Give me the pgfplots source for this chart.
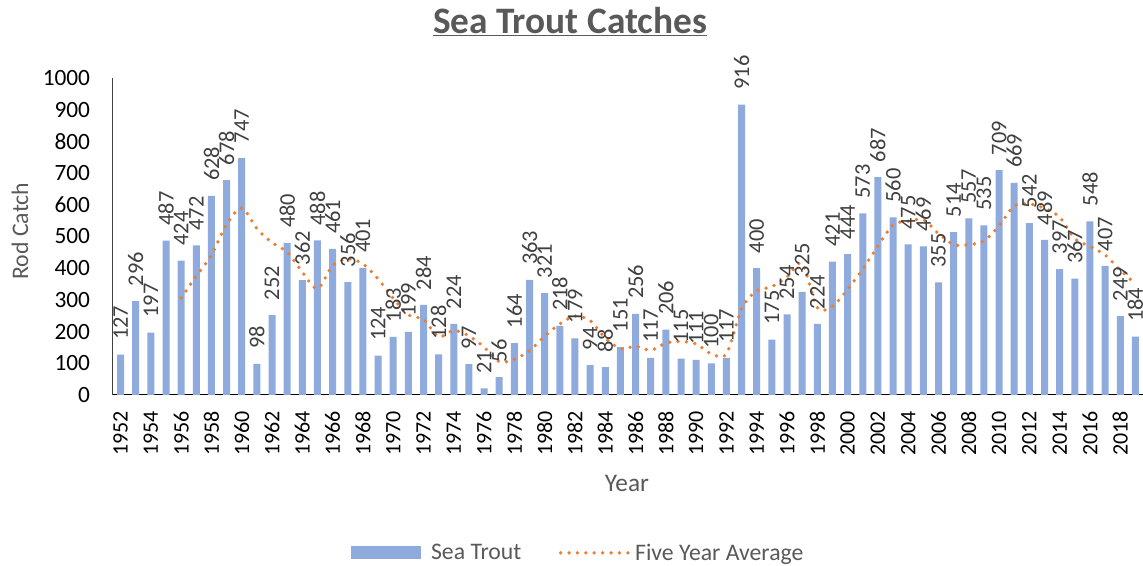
\documentclass[border=0pt]{standalone}
\usepackage{fontspec}
\setmainfont{Carlito}
\usepackage{pgfplots}
\pgfplotsset{compat=1.18}
\definecolor{trBar}{HTML}{8FAADC}
\definecolor{trOrange}{HTML}{ED7D31}
\definecolor{trGrey}{HTML}{595959}
\definecolor{trLabel}{HTML}{404040}

\begin{document}
\begin{tikzpicture}
\path[use as bounding box] (-84.75pt,-128.25pt) rectangle (772.5pt,296.25pt);
\begin{axis}[
  at={(0,0)}, anchor=south west,
  scale only axis, width=772.5pt, height=237.75pt,
  xmin=1951.5, xmax=2019.5, ymin=0, ymax=1000,
  clip=false,
  axis x line*=bottom, axis y line*=left,
  x axis line style={-, black, line width=0.75pt},
  y axis line style={-, trLabel, line width=0.75pt},
  major tick length=0pt,
  xtick={1952,1954,...,2018},
  ytick={0,100,...,1000},
  /pgf/number format/.cd, 1000 sep={}, assume math mode=true, /pgfplots/.cd,
  xticklabel style={font=\fontsize{16.5}{18}\selectfont, rotate=90, anchor=east, inner xsep=12pt},
  yticklabel style={font=\fontsize{17.5}{19}\selectfont, anchor=east, inner xsep=17pt},
  xlabel={Year}, ylabel={Rod Catch},
  xlabel style={font=\fontsize{19}{21}\selectfont, text=trGrey, at={(axis description cs:0.499,-0.278)}, anchor=center},
  ylabel style={font=\fontsize{17.8}{20}\selectfont, text=trGrey, at={(axis description cs:-0.0903,0.517)}, anchor=center, rotate=0},
  legend columns=2,
  legend style={at={(axis description cs:0.452,-0.498)}, anchor=center, draw=none, fill=none,
    font=\fontsize{17.8}{20}\selectfont, text=trGrey,
    /tikz/every even column/.append style={column sep=26pt}},
]
\addplot[ybar, bar width=5.25pt, fill=trBar, draw=none,
  nodes near coords,
  every node near coord/.append style={font=\fontsize{16.8}{18}\selectfont, text=trLabel, rotate=90, anchor=west, inner xsep=11pt},
  legend image code/.code={\fill[trBar] (0pt,-4.9pt) rectangle (52.5pt,4.9pt); \path (58pt,0pt);}]
coordinates {
(1952,127) (1953,296) (1954,197) (1955,487) (1956,424) (1957,472) (1958,628) (1959,678)
(1960,747) (1961,98) (1962,252) (1963,480) (1964,362) (1965,488) (1966,461) (1967,356)
(1968,401) (1969,124) (1970,183) (1971,199) (1972,284) (1973,128) (1974,224) (1975,97)
(1976,21) (1977,56) (1978,164) (1979,363) (1980,321) (1981,218) (1982,179) (1983,94)
(1984,88) (1985,151) (1986,256) (1987,117) (1988,206) (1989,115) (1990,111) (1991,100)
(1992,117) (1993,916) (1994,400) (1995,175) (1996,254) (1997,325) (1998,224) (1999,421)
(2000,444) (2001,573) (2002,687) (2003,560) (2004,475) (2005,469) (2006,355) (2007,514)
(2008,557) (2009,535) (2010,709) (2011,669) (2012,542) (2013,489) (2014,397) (2015,367)
(2016,548) (2017,407) (2018,249) (2019,184)
};
\addlegendentry{Sea Trout}
% trailing five-year mean of the catches above
\addplot[smooth, trOrange, line width=2.8pt, dash pattern=on 0pt off 6.3pt, line cap=round,
  legend image code/.code={\draw[trOrange, line width=2.8pt, dash pattern=on 0pt off 6.3pt, line cap=round] (0pt,0pt) -- (52.5pt,0pt);}]
coordinates {
(1956,306.2) (1957,375.2) (1958,441.6) (1959,537.8) (1960,589.8) (1961,524.6) (1962,480.6)
(1963,451.0) (1964,387.8) (1965,336.0) (1966,408.6) (1967,429.4) (1968,413.6) (1969,366.0)
(1970,305.0) (1971,252.6) (1972,238.2) (1973,183.6) (1974,203.6) (1975,186.4) (1976,150.8)
(1977,105.2) (1978,112.4) (1979,140.2) (1980,185.0) (1981,224.4) (1982,249.0) (1983,235.0)
(1984,180.0) (1985,146.0) (1986,153.6) (1987,141.2) (1988,163.6) (1989,169.0) (1990,161.0)
(1991,129.8) (1992,129.8) (1993,271.8) (1994,328.8) (1995,341.6) (1996,372.4) (1997,414.0)
(1998,275.6) (1999,279.8) (2000,333.6) (2001,397.4) (2002,469.8) (2003,537.0) (2004,547.8)
(2005,552.8) (2006,509.2) (2007,474.6) (2008,474.0) (2009,486.0) (2010,534.0) (2011,596.8)
(2012,602.4) (2013,588.8) (2014,561.2) (2015,492.8) (2016,468.6) (2017,441.6) (2018,393.6)
(2019,351.0)
};
\addlegendentry{Five Year Average}
\node[font=\bfseries\fontsize{28}{31}\selectfont, text=trGrey] at (rel axis cs:0.4437,1.177) {\underline{Sea Trout Catches}};
\end{axis}
\end{tikzpicture}
\end{document}
